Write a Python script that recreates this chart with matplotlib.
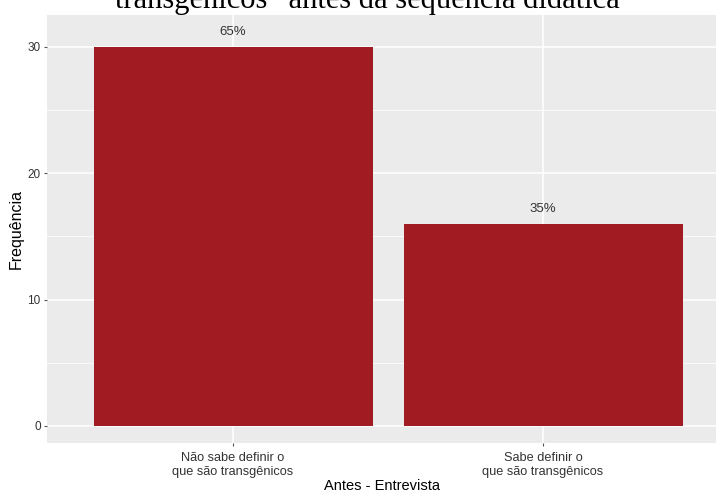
import matplotlib.pyplot as plt
from matplotlib.ticker import MultipleLocator

# dados da entrevista (antes)
categorias = ["Não sabe definir o\nque são transgênicos", "Sabe definir o\nque são transgênicos"]
frequencias = [30, 16]
titulo = "transgênicos” antes da sequência didática"

total = sum(frequencias)
percentuais = [f"{round(100 * f / total)}%" for f in frequencias]

plt.rcParams['font.family'] = ['Liberation Sans', 'DejaVu Sans']

W, H = 716, 495
fig = plt.figure(figsize=(W / 100, H / 100), dpi=100)
fig.patch.set_facecolor('white')

# painel em coordenadas de pixel
px_left, px_right, px_top, px_bottom = 47, 716, 15, 443
ax = fig.add_axes([px_left / W, 1 - px_bottom / H,
                   (px_right - px_left) / W, (px_bottom - px_top) / H])
ax.set_facecolor('#EBEBEB')

pos = [1, 2]
ax.bar(pos, frequencias, width=0.9, color='#A01C22', zorder=3)

for x, y, txt in zip(pos, frequencias, percentuais):
    ax.annotate(txt, (x, y), xytext=(0, 11), textcoords='offset points',
                ha='center', va='center', fontsize=9.5, color='#333333', zorder=4)

ax.set_xlim(0.4, 2.558)
ax.set_ylim(-1.35, 32.53)
ax.set_xticks(pos)
ax.set_xticklabels(categorias, fontsize=9.2, color='#333333', linespacing=1.2)
ax.yaxis.set_major_locator(MultipleLocator(10))
ax.yaxis.set_minor_locator(MultipleLocator(5))
ax.tick_params(axis='y', which='major', labelsize=8.5, labelcolor='#333333',
               length=2.5, width=0.8, color='#555555', pad=2)
ax.tick_params(axis='y', which='minor', length=0)
ax.tick_params(axis='x', length=2.5, width=0.8, color='#555555', pad=4)

ax.grid(which='major', color='white', linewidth=1.1, zorder=0)
ax.grid(which='minor', axis='y', color='white', linewidth=0.55, zorder=0)
ax.set_axisbelow(True)
for s in ax.spines.values():
    s.set_visible(False)

ax.set_xlabel("Antes - Entrevista", fontsize=10.5, color='black', labelpad=1)
ax.set_ylabel("Frequência", fontsize=11.5, color='black', labelpad=3)

# título cortado no topo da imagem
fig.text(367 / W, 1 - 8 / H, titulo, family='Liberation Serif', fontsize=22,
         ha='center', va='baseline', color='black')

fig.savefig('out.png', dpi=100)
